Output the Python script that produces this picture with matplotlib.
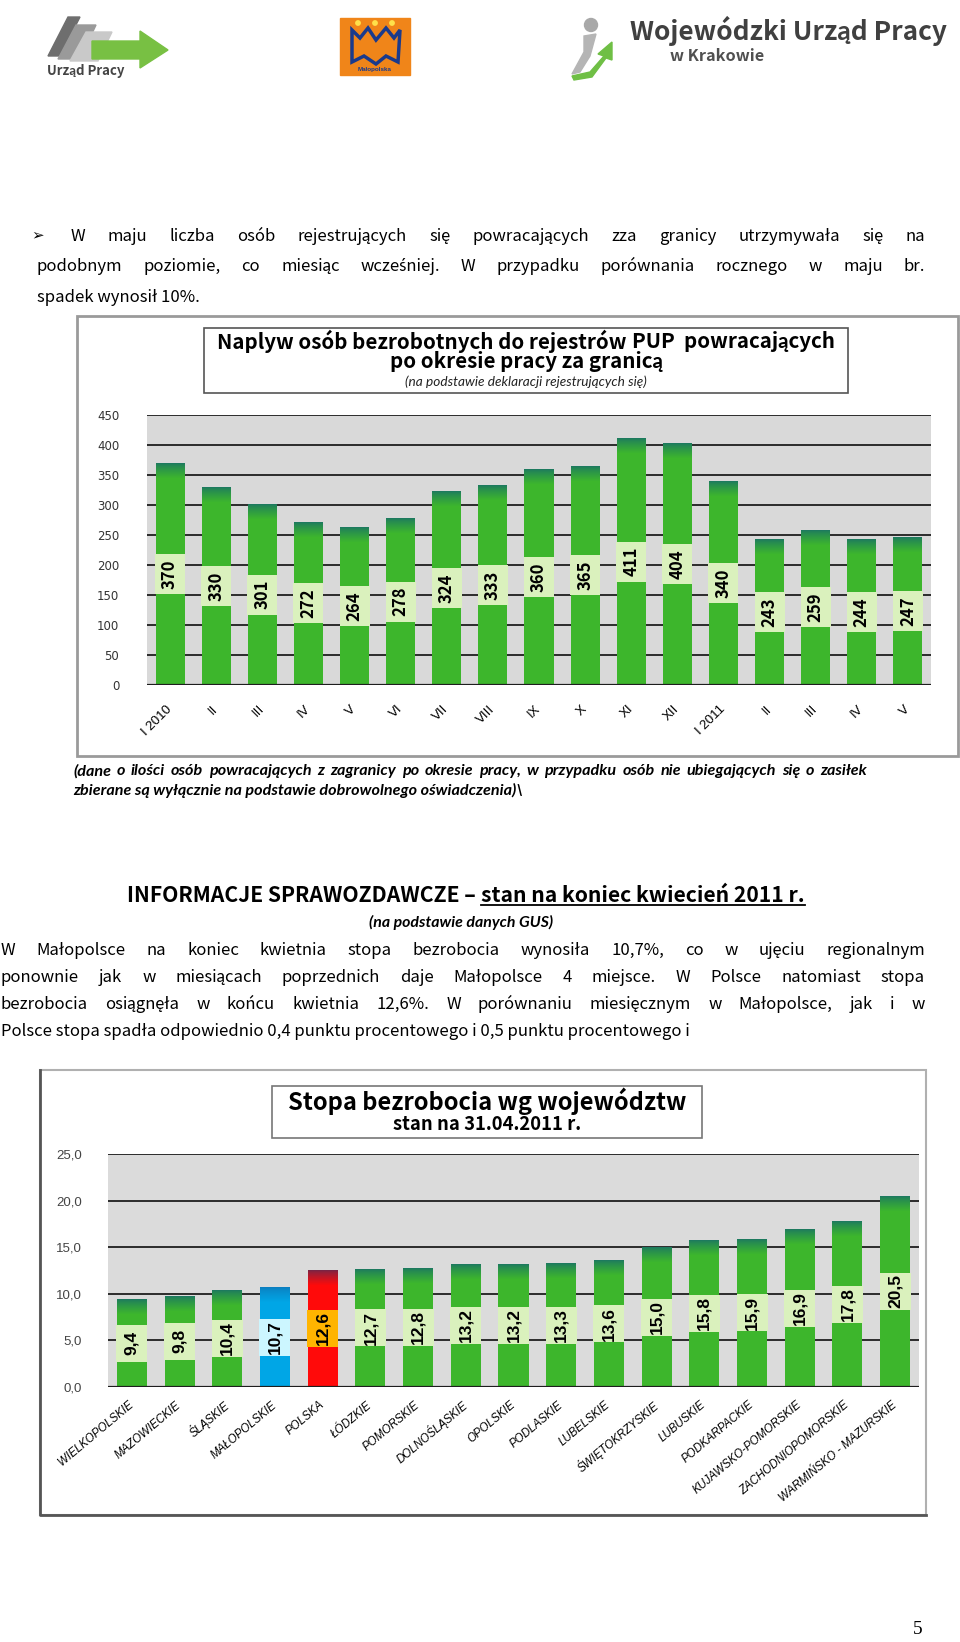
import numpy as np
import matplotlib.pyplot as plt
from matplotlib.patches import Rectangle, Polygon, Circle
from matplotlib.colors import to_rgb

W, H = 960, 1642

# dane - wykres 1
months = ['I 2010', 'II', 'III', 'IV', 'V', 'VI', 'VII', 'VIII', 'IX', 'X', 'XI', 'XII',
          'I 2011', 'II', 'III', 'IV', 'V']
returning = [370, 330, 301, 272, 264, 278, 324, 333, 360, 365, 411, 404, 340, 243, 259, 244, 247]

# dane - wykres 2
regions = ['WIELKOPOLSKIE', 'MAZOWIECKIE', 'ŚLĄSKIE', 'MAŁOPOLSKIE', 'POLSKA', 'ŁÓDZKIE',
           'POMORSKIE', 'DOLNOŚLĄSKIE', 'OPOLSKIE', 'PODLASKIE', 'LUBELSKIE', 'ŚWIĘTOKRZYSKIE',
           'LUBUSKIE', 'PODKARPACKIE', 'KUJAWSKO-POMORSKIE', 'ZACHODNIOPOMORSKIE',
           'WARMIŃSKO - MAZURSKIE']
rates = [9.4, 9.8, 10.4, 10.7, 12.6, 12.7, 12.8, 13.2, 13.2, 13.3, 13.6, 15.0, 15.8, 15.9,
         16.9, 17.8, 20.5]

GREEN = '#3db62c'
GREEN_TOP = '#1d7a5e'
GREEN_BOX = '#daf1bd'
ARIAL = ['Liberation Sans', 'DejaVu Sans']
BODY = ['Noto Sans CJK JP', 'Lato', 'DejaVu Sans']
ITAL = ['Lato', 'DejaVu Sans']

fig = plt.figure(figsize=(W / 100, H / 100), dpi=100)
bg = fig.add_axes([0, 0, 1, 1])
bg.set_xlim(0, W)
bg.set_ylim(H, 0)
bg.axis('off')
renderer = fig.canvas.get_renderer()


def text_width(s, **kw):
    t = bg.text(0, 0, s, **kw)
    w = t.get_window_extent(renderer).width
    t.remove()
    return w


def fit_size(s, target, **kw):
    # rozmiar czcionki tak, zeby tekst mial zadana szerokosc w px
    return 10 * target / text_width(s, fontsize=10, **kw)


def put_line(s, y, x0, x1=None, **kw):
    # y = srodek linii; tekst stawiany na linii bazowej
    yb = y + 0.34 * kw['fontsize'] * 100 / 72
    if x1 is None:
        bg.text(x0, yb, s, va='baseline', **kw)
        return
    words = s.split()
    widths = [text_width(w_, **kw) for w_ in words]
    gap = (x1 - x0 - sum(widths)) / (len(words) - 1)
    x = x0
    for w_, wd in zip(words, widths):
        bg.text(x, yb, w_, va='baseline', **kw)
        x += wd + gap


def mix(a, b, t):
    return tuple(np.array(to_rgb(a)) * (1 - t) + np.array(to_rgb(b)) * t)


def px_axes(x0, y0, x1, y1):
    return fig.add_axes([x0 / W, 1 - y1 / H, (x1 - x0) / W, (y1 - y0) / H])


def draw_bars(ax, values, base_cols, top_cols, box_cols, ax_h_px, ymax, grad_px, box_px,
              fmt, font):
    x = np.arange(len(values))
    v = np.array(values, dtype=float)
    upp = ymax / ax_h_px
    ax.bar(x, v, width=0.63, color=base_cols, linewidth=0, zorder=3)
    n = 16
    d = grad_px * upp / n
    for k in range(n):
        t = (k / (n - 1)) ** 0.8
        cols = [mix(tc, bc, t) for tc, bc in zip(top_cols, base_cols)]
        ax.bar(x, d * 1.05, bottom=v - (k + 1) * d, width=0.63, color=cols, linewidth=0, zorder=3)
    bh = box_px * upp
    ax.bar(x, bh, bottom=v / 2 - bh / 2, width=0.65, color=box_cols, linewidth=0, zorder=4)
    for xi, vi in zip(x, v):
        ax.text(xi, vi / 2, fmt(vi), rotation=90, ha='center', va='center', zorder=5,
                color='black', **font)


# ---- logotypy ----
bg.add_patch(Polygon([(48, 56), (68, 17), (80, 17), (60, 56)], color='#6e6e6e'))
bg.add_patch(Polygon([(58, 59), (76, 25), (96, 25), (80, 59)], color='#9a9a9a'))
bg.add_patch(Polygon([(70, 61), (86, 32), (112, 32), (98, 61)], color='#c9c9c9'))
bg.add_patch(Polygon([(92, 41), (140, 41), (140, 31), (168, 50), (140, 68), (140, 59), (92, 59)],
                     color='#78c043'))
bg.text(47, 71, 'Urząd Pracy', fontsize=9.5, fontweight='bold', color='#444', family=BODY,
        va='center')

bg.add_patch(Rectangle((340, 18), 70, 57, color='#f08519'))
bg.add_patch(Polygon([(352, 30), (360, 38), (368, 28), (376, 40), (386, 28), (394, 38), (400, 30),
                      (398, 62), (386, 56), (376, 64), (364, 56), (352, 62)],
                     facecolor='none', edgecolor='#1a3a8c', lw=2.5))
for cx in (358, 375, 392):
    bg.add_patch(Circle((cx, 23), 2.2, color='#ffe14a'))
bg.text(375, 70, 'Małopolska', fontsize=4.5, fontweight='bold', color='#1a3a8c', ha='center',
        va='center', family=ARIAL)

bg.add_patch(Circle((591, 25), 6.5, color='#a8a8a8'))
bg.add_patch(Polygon([(584, 36), (596, 34), (590, 56), (580, 72), (572, 74), (584, 52)],
                     color='#b5b5b5'))
bg.add_patch(Polygon([(572, 76), (590, 72), (604, 56), (598, 54), (612, 42), (612, 60), (606, 58),
                      (592, 77), (574, 80)], color='#6fbf45'))
s_woj = fit_size('Wojewódzki Urząd Pracy', 318, fontweight='bold', family=BODY)
bg.text(630, 31, 'Wojewódzki Urząd Pracy', fontsize=s_woj, fontweight='bold', color='#404040',
        family=BODY, va='center')
bg.text(670, 56, 'w Krakowie', fontsize=s_woj * 0.62, fontweight='bold', color='#505050',
        family=BODY, va='center')

# ---- tekst nad wykresem 1 ----
body_last = 'Polsce stopa spadła odpowiednio 0,4 punktu procentowego i 0,5 punktu procentowego i'
s_body = fit_size(body_last, 689, family=BODY)
bkw = dict(fontsize=s_body, family=BODY, color='black')
bg.text(31, 235, '➢', fontsize=s_body * 0.9, family=['DejaVu Sans'], va='center')
put_line('W maju liczba osób rejestrujących się powracających zza granicy utrzymywała się na',
         235, 71, 925, **bkw)
put_line('podobnym poziomie, co miesiąc wcześniej. W przypadku porównania rocznego w maju br.',
         265, 37, 925, **bkw)
put_line('spadek wynosił 10%.', 296, 37, **bkw)

# ---- wykres 1 ----
bg.add_patch(Rectangle((77, 316), 881, 440, facecolor='white', edgecolor='#9a9a9a', lw=2))
bg.add_patch(Rectangle((204, 328), 644, 65, facecolor='white', edgecolor='#555', lw=1.2))
t1a = 'Naplyw osób bezrobotnych do rejestrów '
t1b = 'PUP  powracających'
tkw = dict(fontweight='bold', family=BODY)
s_t1 = fit_size(t1a + t1b, 620, **tkw)
wa = text_width(t1a, fontsize=s_t1, **tkw)
wb = text_width(t1b, fontsize=s_t1, **tkw)
x_t1 = 526 - (wa + wb) / 2
bg.text(x_t1, 341, t1a, fontsize=s_t1, va='center', **tkw)
bg.text(x_t1 + wa, 341, t1b, fontsize=s_t1, va='center', **tkw)
bg.text(526, 362, 'po okresie pracy za granicą', fontsize=s_t1, ha='center', va='center', **tkw)
bg.text(526, 382, '(na podstawie deklaracji rejestrujących się)', fontsize=s_t1 * 0.66,
        style='italic', family=ITAL, ha='center', va='center', color='#222')

ax1 = px_axes(147, 415, 931, 685)
draw_bars(ax1, returning, [GREEN] * len(returning), [GREEN_TOP] * len(returning),
          [GREEN_BOX] * len(returning), 270, 450, 16, 40, lambda v: f'{v:.0f}',
          dict(fontsize=12, fontweight='bold', family=BODY))
ax1.set_xlim(-0.5, len(returning) - 0.5)
ax1.set_ylim(0, 450)
ax1.set_facecolor('#d9d9d9')
ax1.set_yticks(np.arange(0, 451, 50))
ax1.yaxis.grid(True, color='#1e1e1e', lw=1.3)
ax1.set_axisbelow(True)
for sp in ax1.spines.values():
    sp.set_visible(False)
ax1.tick_params(length=0)
ax1.tick_params(axis='y', labelsize=8.5, labelcolor='#333', pad=20)
ax1.set_xticks(np.arange(len(months)), months, rotation=45, ha='right', va='center',
               rotation_mode='anchor', fontsize=9.5, family=ARIAL)
ax1.tick_params(axis='x', pad=16)
ax1.axhline(0, color='#1e1e1e', lw=1.6, zorder=6)

fkw = dict(fontweight='bold', style='italic', family=ITAL, color='black')
s_foot = fit_size('zbierane są wyłącznie na podstawie dobrowolnego oświadczenia)\\', 450, **fkw)
put_line('(dane o ilości osób powracających z zagranicy po okresie pracy, w przypadku osób nie '
         'ubiegających się o zasiłek', 770, 73, 867, fontsize=s_foot, **fkw)
put_line('zbierane są wyłącznie na podstawie dobrowolnego oświadczenia)\\', 790, 73,
         fontsize=s_foot, **fkw)

# ---- naglowek i akapit ----
h1 = 'INFORMACJE SPRAWOZDAWCZE – '
h2 = 'stan na koniec kwiecień 2011 r.'
hkw = dict(fontweight='bold', family=BODY, color='black')
s_h = fit_size(h1 + h2, 680, **hkw)
w1 = text_width(h1, fontsize=s_h, **hkw)
w2 = text_width(h2, fontsize=s_h, **hkw)
hx = 466 - (w1 + w2) / 2
hb = 895 + 0.34 * s_h * 100 / 72
bg.text(hx, hb, h1, fontsize=s_h, va='baseline', **hkw)
bg.text(hx + w1, hb, h2, fontsize=s_h, va='baseline', **hkw)
bg.plot([hx + w1, hx + w1 + w2], [hb + 2.5, hb + 2.5], color='black', lw=1.3)
bg.text(461, 922, '(na podstawie danych GUS)', fontsize=s_body * 0.95, fontweight='bold',
        style='italic', family=ITAL, ha='center', va='center')

put_line('W Małopolsce na koniec kwietnia stopa bezrobocia wynosiła 10,7%, co w ujęciu regionalnym',
         949, 1, 925, **bkw)
put_line('ponownie jak w miesiącach poprzednich daje Małopolsce 4 miejsce. W Polsce natomiast stopa',
         976, 1, 925, **bkw)
put_line('bezrobocia osiągnęła w końcu kwietnia 12,6%. W porównaniu miesięcznym w Małopolsce, jak i w',
         1003, 1, 925, **bkw)
put_line(body_last, 1030, 1, **bkw)

# ---- wykres 2 ----
bg.add_patch(Rectangle((40, 1070), 886, 445, facecolor='white', edgecolor='#b0b0b0', lw=1.5))
bg.plot([40, 40, 926], [1070, 1515, 1515], color='#555', lw=2)
bg.add_patch(Rectangle((272, 1086), 430, 52, facecolor='white', edgecolor='#777', lw=1.2))
t2 = 'Stopa bezrobocia wg województw'
s_t2 = fit_size(t2, 400, family=BODY, fontweight='bold')
bg.text(487, 1101, t2, fontsize=s_t2, family=BODY, ha='center', va='center', fontweight='bold')
bg.text(487, 1125, 'stan na 31.04.2011 r.', fontsize=s_t2 * 0.78, family=BODY, ha='center',
        va='center', fontweight='bold')

base2 = [GREEN] * len(rates)
top2 = [GREEN_TOP] * len(rates)
box2 = [GREEN_BOX] * len(rates)
i_mp = regions.index('MAŁOPOLSKIE')
i_pl = regions.index('POLSKA')
base2[i_mp], top2[i_mp], box2[i_mp] = '#00a6e6', '#0b7fc0', '#ccf6ff'
base2[i_pl], top2[i_pl], box2[i_pl] = '#ff0a0a', '#7a2444', '#ffb400'

ax2 = px_axes(108, 1154, 919, 1387)
draw_bars(ax2, rates, base2, top2, box2, 233, 25, 16, 37, lambda v: f'{v:.1f}'.replace('.', ','),
          dict(fontsize=12.5, fontweight='bold', family=ARIAL))
ax2.set_xlim(-0.5, len(rates) - 0.5)
ax2.set_ylim(0, 25)
ax2.set_facecolor('#dbdbdb')
yt = np.arange(0, 25.1, 5)
ax2.set_yticks(yt, [f'{v:.1f}'.replace('.', ',') for v in yt])
ax2.yaxis.grid(True, color='#1e1e1e', lw=1.3)
ax2.set_axisbelow(True)
for sp in ax2.spines.values():
    sp.set_visible(False)
ax2.tick_params(length=0)
ax2.tick_params(axis='y', labelsize=9.5, labelcolor='#444', pad=19)
for lab in ax2.get_yticklabels():
    lab.set_family(ARIAL)
ax2.set_xticks(np.arange(len(regions)), regions, rotation=40, ha='right', va='center',
               rotation_mode='anchor', fontsize=8.3, style='italic', family=ARIAL)
ax2.tick_params(axis='x', pad=12)
ax2.axhline(0, color='#1e1e1e', lw=1.6, zorder=6)

bg.text(918, 1630, '5', fontsize=14, family=['Liberation Serif', 'DejaVu Serif'], ha='center',
        va='center')

fig.savefig('out.png', dpi=100)
